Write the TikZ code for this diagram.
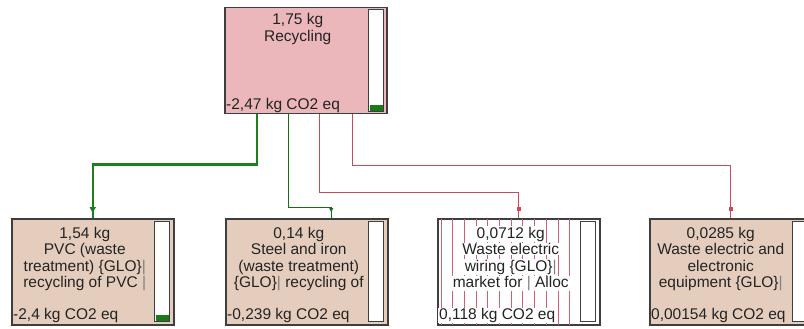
\documentclass[tikz,border=0pt]{standalone}
\usepackage{fontspec}
\setmainfont{Liberation Sans}
\usetikzlibrary{calc,arrows.meta,decorations.markings}

\definecolor{recpink}{RGB}{236,183,187}
\definecolor{proctan}{RGB}{229,205,190}
\definecolor{boxline}{RGB}{62,62,62}
\definecolor{textgray}{RGB}{35,35,35}
\definecolor{linkgreen}{RGB}{30,125,30}
\definecolor{linkred}{RGB}{200,75,90}
\definecolor{hatchred}{RGB}{212,95,108}
\definecolor{bargreen}{RGB}{25,122,25}

\newcommand{\gbar}{\textcolor{gray}{|}}

\tikzset{
    procbox/.style={draw=boxline, line width=1.5pt, anchor=north west,
        minimum width=162pt, minimum height=106pt, inner sep=0pt},
    barbox/.style={draw=boxline, fill=white, line width=1.2pt, anchor=north west,
        minimum width=15pt, minimum height=100pt, inner sep=0pt},
    txt/.style={anchor=base, inner sep=0pt, text=textgray,
        font=\fontsize{15.5}{16.5}\selectfont},
    score/.style={txt, anchor=base west},
    masked/.style={fill=white, inner xsep=1pt, inner ysep=0.6pt},
    gwire/.style={draw=linkgreen, line width=2.5pt, postaction={decorate},
        decoration={markings, mark=at position -4pt with {\arrow{Latex[length=7pt,width=7pt]}}}},
    gthin/.style={draw=linkgreen!85!black, line width=1pt, postaction={decorate},
        decoration={markings, mark=at position -5pt with {\arrow{Latex[length=5pt,width=4.5pt]}}}},
    rwire/.style={draw=linkred, line width=1pt, postaction={decorate},
        decoration={markings, mark=at position -7pt with {\arrow{Square[length=4pt,width=4pt]}}}},
    hatch/.style={draw=hatchred, line width=0.9pt}
}

\begin{document}
\begin{tikzpicture}[x=1pt, y=-1pt]
    \useasboundingbox (0,0) rectangle (804,329);
    % Process boxes
        \node[procbox, fill=recpink] (recycling) at (224,7) {};
        \node[procbox, fill=proctan] (pvc) at (11,218) {};
        \node[procbox, fill=proctan] (steel) at (225,218) {};
        \node[procbox, fill=white] (wiring) at (437,218) {};
        \node[procbox, fill=proctan] (weee) at (649,218) {};
    % Hatching of the wiring box
        \foreach \k in {0,...,11}
            \draw[hatch] ($(wiring.north west)+(4+11.7*\k,0.8)$) -- ($(wiring.south west)+(4+11.7*\k,-0.8)$);
    % Bars
        \node[barbox, minimum height=102pt] (recbar) at (368,9) {};
        \fill[bargreen] ($(recbar.south west)+(1.5,-1.5)$) rectangle ($(recbar.south east)+(-1.5,-7.5)$);
        \node[barbox] (pvcbar) at (154,221) {};
        \fill[bargreen] ($(pvcbar.south west)+(1.5,-1.5)$) rectangle ($(pvcbar.south east)+(-1.5,-7.5)$);
        \node[barbox] (steelbar) at (368,221) {};
        \node[barbox] (wiringbar) at (580,221) {};
        \node[barbox] (weeebar) at (792,221) {};
    % Texts
        \node[txt] (rec-l0) at ($(recycling.north)+(-8,17.5)$) {1,75 kg};
        \node[txt] (rec-l1) at ($(recycling.north)+(-8,34.5)$) {Recycling};
        \node[score] (rec-score) at ($(recycling.south west)+(2,-5)$) {-2,47 kg CO2 eq};
        \foreach \t [count=\i from 0] in {{1,54 kg},{PVC (waste},{treatment) \{GLO\}\gbar},{recycling of PVC \gbar}}
            \node[txt] (pvc-l\i) at ($(pvc.north)+(-8,20+16.5*\i)$) {\t};
        \node[score] (pvc-score) at ($(pvc.south west)+(2,-6)$) {-2,4 kg CO2 eq};
        \foreach \t [count=\i from 0] in {{0,14 kg},{Steel and iron},{(waste treatment)},{\{GLO\}\gbar{} recycling of}}
            \node[txt] (steel-l\i) at ($(steel.north)+(-8,20+16.5*\i)$) {\t};
        \node[score] (steel-score) at ($(steel.south west)+(2,-6)$) {-0,239 kg CO2 eq};
        \foreach \t [count=\i from 0] in {{0,0712 kg},{Waste electric},{wiring \{GLO\}\gbar},{market for \gbar{} Alloc}}
            \node[txt, masked] (wiring-l\i) at ($(wiring.north)+(-8,20+16.5*\i)$) {\t};
        \node[score, masked] (wiring-score) at ($(wiring.south west)+(1,-6)$) {0,118 kg CO2 eq};
        \foreach \t [count=\i from 0] in {{0,0285 kg},{Waste electric and},{electronic},{equipment \{GLO\}\gbar}}
            \node[txt] (weee-l\i) at ($(weee.north)+(-10,20+16.5*\i)$) {\t};
        \node[score] (weee-score) at ($(weee.south west)+(2,-6)$) {0,00154 kg CO2 eq};
    % Connectors
        \draw[gwire] ($(recycling.south)+(-49,0)$) -- ++(0,50) -| (pvc.north);
        \draw[gthin] ($(recycling.south)+(-17,0)$) -- ++(0,93) -| ($(steel.north)+(24.5,0)$);
        \draw[rwire] ($(recycling.south)+(14,0)$) -- ++(0,78) -| (wiring.north);
        \draw[rwire] ($(recycling.south)+(47,0)$) -- ++(0,51) -| (weee.north);
\end{tikzpicture}
\end{document}
